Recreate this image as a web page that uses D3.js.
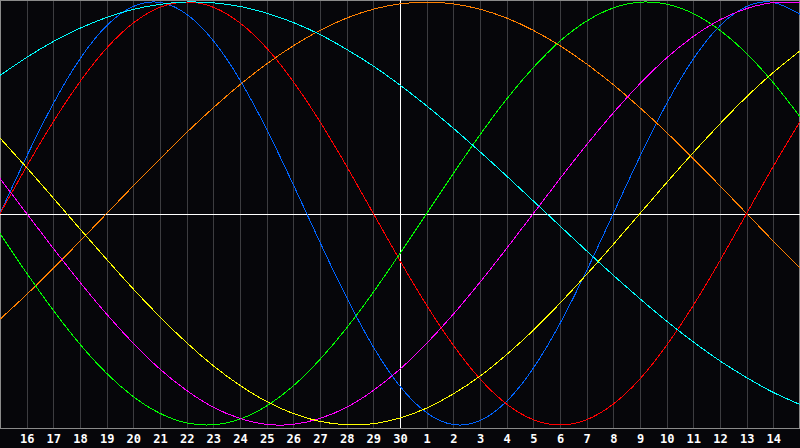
<!DOCTYPE html>
<html>
<head>
<meta charset="utf-8">
<script src="https://cdn.jsdelivr.net/npm/d3@7"></script>
<style>
  html, body { margin: 0; padding: 0; background: #06060a; }
  svg { display: block; }
</style>
</head>
<body>
<div id="chart"></div>
<script>
// Chart size
const w = 800;
const h = 448;

// Day labels along the bottom, one per grid column (index 0 .. 30)
const days = [15, 16, 17, 18, 19, 20, 21, 22, 23, 24, 25, 26, 27, 28, 29, 30,
              1, 2, 3, 4, 5, 6, 7, 8, 9, 10, 11, 12, 13, 14, 15];
const todayIndex = 15;

// Values, one per day (-1 .. 1)
const physical = [0, 0.27, 0.52, 0.731, 0.888, 0.979, 0.998, 0.942, 0.817, 0.631, 0.398, 0.136,
  -0.136, -0.398, -0.631, -0.817, -0.942, -0.998, -0.979, -0.888, -0.731, -0.52, -0.27,
  0, 0.27, 0.52, 0.731, 0.888, 0.979, 0.998, 0.942];
const emotional = [0, 0.223, 0.434, 0.623, 0.782, 0.901, 0.975, 1, 0.975, 0.901, 0.782, 0.623, 0.434, 0.223,
  0, -0.223, -0.434, -0.623, -0.782, -0.901, -0.975, -1, -0.975, -0.901, -0.782, -0.623, -0.434, -0.223,
  0, 0.223, 0.434];
const intellectual = [-0.095, -0.282, -0.458, -0.618, -0.756, -0.866, -0.945, -0.99, -0.999, -0.972, -0.91,
  -0.815, -0.69, -0.541, -0.372, -0.189, 0, 0.189, 0.372, 0.541, 0.69, 0.815, 0.91, 0.972, 0.999, 0.99,
  0.945, 0.866, 0.756, 0.618, 0.458];
const intuitive = [0.165, 0, -0.165, -0.325, -0.476, -0.614, -0.736, -0.837, -0.916, -0.969, -0.997, -0.997,
  -0.969, -0.916, -0.837, -0.736, -0.614, -0.476, -0.325, -0.165, 0, 0.165, 0.325, 0.476, 0.614, 0.736,
  0.837, 0.916, 0.969, 0.997, 0.997];
const aesthetic = [0.357, 0.217, 0.073, -0.073, -0.217, -0.357, -0.489, -0.611, -0.72, -0.813, -0.889, -0.946,
  -0.983, -0.999, -0.994, -0.967, -0.92, -0.853, -0.769, -0.667, -0.552, -0.424, -0.288, -0.146, 0, 0.146,
  0.288, 0.424, 0.552, 0.667, 0.769];
const awareness = [-0.5, -0.383, -0.259, -0.131, 0, 0.131, 0.259, 0.383, 0.5, 0.609, 0.707, 0.793, 0.866,
  0.924, 0.966, 0.991, 1, 0.991, 0.966, 0.924, 0.866, 0.793, 0.707, 0.609, 0.5, 0.383, 0.259, 0.131, 0,
  -0.131, -0.259];
const spiritual = [0.653, 0.738, 0.813, 0.876, 0.927, 0.965, 0.989, 1, 0.996, 0.979, 0.947, 0.903, 0.846,
  0.776, 0.697, 0.607, 0.509, 0.403, 0.292, 0.177, 0.059, -0.059, -0.177, -0.292, -0.403, -0.509, -0.607,
  -0.697, -0.776, -0.846, -0.903];

// Series in drawing order
const series = [
  { name: "physical", values: physical, color: "#0064ff" },
  { name: "awareness", values: awareness, color: "#ff8000" },
  { name: "emotional", values: emotional, color: "#ff0000" },
  { name: "intellectual", values: intellectual, color: "#00ff00" },
  { name: "spiritual", values: spiritual, color: "#00ffff" },
  { name: "intuitive", values: intuitive, color: "#ff00ff" },
  { name: "aesthetic", values: aesthetic, color: "#ffff00" }
];

const plotBottom = 428;

const svg = d3.select("#chart")
  .append("svg")
  .attr("width", w)
  .attr("height", h);

svg.append("rect")
  .attr("width", w)
  .attr("height", h)
  .attr("fill", "#06060a");

// Scales
const xScale = d3.scaleLinear()
  .domain([0, days.length - 1])
  .range([0, w]);

const yScale = d3.scaleLinear()
  .domain([-1, 1])
  .range([425, 2]);

// Bottom axis doubles as the vertical grid
const xAxis = d3.axisBottom(xScale)
  .tickValues(d3.range(1, days.length - 1))
  .tickFormat(i => days[i])
  .tickSizeInner(-plotBottom)
  .tickSizeOuter(0)
  .tickPadding(6);

const axis = svg.append("g")
  .attr("transform", `translate(0,${plotBottom})`)
  .call(xAxis);

axis.select(".domain").remove();
axis.selectAll("line")
  .attr("stroke", "#3c3c40")
  .attr("shape-rendering", "crispEdges");
axis.selectAll("text")
  .attr("fill", "#ffffff")
  .attr("font-family", "'DejaVu Sans Mono', monospace")
  .attr("font-weight", "bold")
  .attr("font-size", "12px");

// Frame
svg.append("rect")
  .attr("x", 0.5)
  .attr("y", 0.5)
  .attr("width", w - 1)
  .attr("height", plotBottom - 0.5)
  .attr("fill", "none")
  .attr("stroke", "#8a8a8a")
  .attr("shape-rendering", "crispEdges");

// Zero line and today line
svg.append("line")
  .attr("x1", 0)
  .attr("x2", w)
  .attr("y1", Math.round(yScale(0)) + 0.5)
  .attr("y2", Math.round(yScale(0)) + 0.5)
  .attr("stroke", "#ffffff")
  .attr("shape-rendering", "crispEdges");

svg.append("line")
  .attr("x1", xScale(todayIndex) + 0.5)
  .attr("x2", xScale(todayIndex) + 0.5)
  .attr("y1", 0)
  .attr("y2", plotBottom)
  .attr("stroke", "#ffffff")
  .attr("shape-rendering", "crispEdges");

// Cycle curves
const line = d3.line()
  .x((d, i) => xScale(i))
  .y(d => yScale(d))
  .curve(d3.curveNatural);

svg.selectAll("path.cycle")
  .data(series)
  .enter()
  .append("path")
  .attr("class", "cycle")
  .attr("d", d => line(d.values))
  .attr("fill", "none")
  .attr("stroke", d => d.color)
  .attr("stroke-width", 1)
  .attr("shape-rendering", "crispEdges");
</script>
</body>
</html>
